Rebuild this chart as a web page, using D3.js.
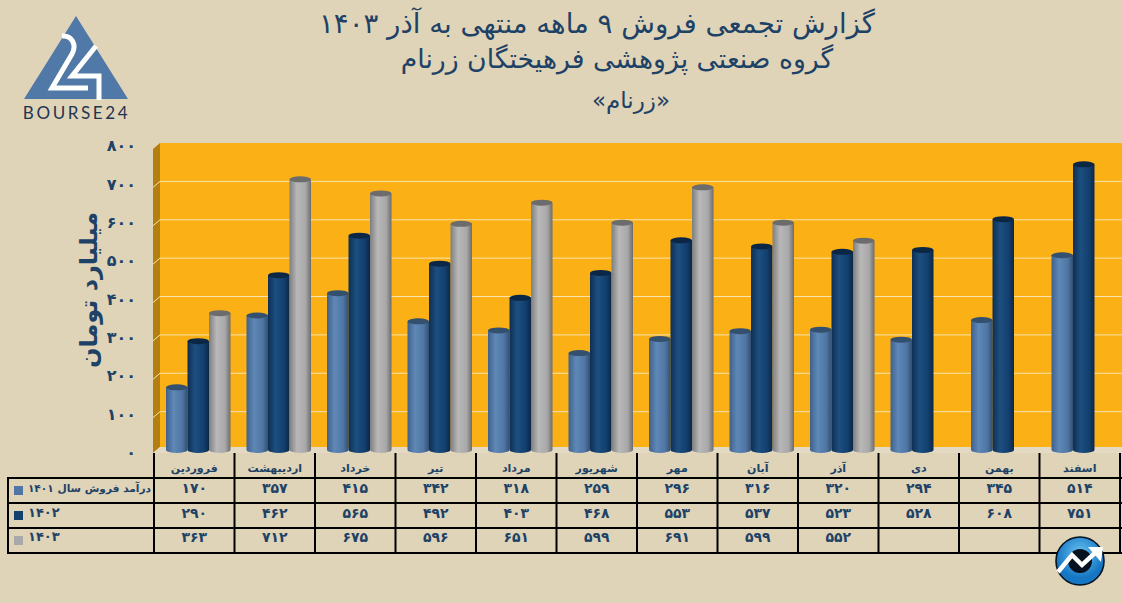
<!DOCTYPE html>
<html>
<head>
<meta charset="utf-8">
<script src="https://cdn.jsdelivr.net/npm/d3@7"></script>
<style>
  html, body { margin: 0; padding: 0; background: #dfd3b8; overflow: hidden; }
  text { font-family: "DejaVu Sans", sans-serif; }
</style>
</head>
<body>
<div id="wrapper"></div>
<script>
// chart values
const months = ["فروردین", "اردیبهشت", "خرداد", "تیر", "مرداد", "شهریور", "مهر", "آبان", "آذر", "دی", "بهمن", "اسفند"]
const years = ["1401", "1402", "1403"]
const sales1401 = [170, 357, 415, 342, 318, 259, 296, 316, 320, 294, 345, 514]
const sales1402 = [290, 462, 565, 492, 403, 468, 553, 537, 523, 528, 608, 751]
const sales1403 = [363, 712, 675, 596, 651, 599, 691, 599, 552, null, null, null]
const yTicks = [0, 100, 200, 300, 400, 500, 600, 700, 800]
const titleLines = [
    "گزارش تجمعی فروش ۹ ماهه منتهی به آذر ۱۴۰۳",
    "گروه صنعتی پژوهشی فرهیختگان زرنام",
    "«زرنام»",
]
const rowLabels = ["درآمد فروش سال ۱۴۰۱", "۱۴۰۲", "۱۴۰۳"]

const allSeries = [sales1401, sales1402, sales1403]
const ink = "#1d4266"
const toFa = n => String(n).replace(/\d/g, d => "۰۱۲۳۴۵۶۷۸۹"[d])

const dims = { width: 1122, height: 603 }

const wrapper = d3.select("#wrapper")
    .append("svg")
    .attr("width", dims.width)
    .attr("height", dims.height)
    .style("display", "block")

wrapper.append("rect")
    .attr("width", dims.width)
    .attr("height", dims.height)
    .attr("fill", "#dfd3b8")

// cylinder shading
const defs = wrapper.append("defs")
const shades = {
    "1401": ["#3f618c", "#5f88b6", "#4f76a4", "#34506f"],
    "1402": ["#0f2f52", "#1c4f80", "#123f6e", "#0c2746"],
    "1403": ["#7e7e7e", "#b8b8b8", "#a8a8a8", "#6c6c6c"],
}
years.forEach(year => {
    const grad = defs.append("linearGradient").attr("id", "bar" + year)
    ;[0, 0.35, 0.75, 1].forEach((o, i) => {
        grad.append("stop").attr("offset", o).attr("stop-color", shades[year][i])
    })
})

// scales
const xScale = d3.scaleBand()
    .domain(months)
    .range([154, 1120])

const barScale = d3.scaleBand()
    .domain(years)
    .range([12, 76.5])

const yScale = d3.scaleLinear()
    .domain([0, 800])
    .range([450, 143])

// bars sit a little in front of the back wall, so they read lower than the gridlines
const barDepth = 2.5

// plot wall, side wall and floor
wrapper.append("rect")
    .attr("x", 160)
    .attr("y", yScale(800))
    .attr("width", dims.width - 160)
    .attr("height", yScale(0) - yScale(800))
    .attr("fill", "#fbb116")

wrapper.append("path")
    .attr("d", `M153,${yScale(800) + 6}L160,${yScale(800)}V${yScale(0) - 3}L153,${yScale(0) + 3}Z`)
    .attr("fill", "#b3800f")

wrapper.append("path")
    .attr("d", `M153,${yScale(0) + 3}L160,${yScale(0) - 3}H${dims.width}V${yScale(0) + 3}Z`)
    .attr("fill", "#e4dac4")

// gridlines
const grid = wrapper.append("g")
grid.selectAll("path")
    .data(yTicks.slice(1, -1))
    .join("path")
    .attr("d", d => `M153,${yScale(d) + 6}L160,${yScale(d)}H${dims.width}`)
    .attr("fill", "none")
    .attr("stroke", "#f8e3ae")
    .attr("stroke-width", 1)

// y axis
const yAxisGenerator = d3.axisLeft()
    .scale(yScale)
    .tickValues(yTicks)
    .tickSize(0)
    .tickPadding(0)
    .tickFormat(toFa)

const yAxis = wrapper.append("g")
    .attr("transform", "translate(136,2.5)")
    .call(yAxisGenerator)

yAxis.select(".domain").remove()
yAxis.selectAll("text")
    .attr("fill", ink)
    .attr("font-size", 16)
    .attr("font-weight", "bold")
    .style("font-family", "DejaVu Sans")

wrapper.append("text")
    .attr("transform", "translate(97,290) rotate(-90)")
    .attr("text-anchor", "middle")
    .attr("fill", ink)
    .attr("font-size", 24)
    .attr("font-weight", "bold")
    .text("میلیارد تومان")

// bars
const bars = wrapper.append("g")
years.forEach((year, s) => {
    const group = bars.append("g")
    const points = months
        .map((m, i) => ({ month: m, value: allSeries[s][i] }))
        .filter(d => d.value !== null)
    const barX = d => xScale(d.month) + barScale(year)
    const barTop = d => yScale(d.value) + barDepth
    const rx = barScale.bandwidth() / 2

    // body with rounded foot
    group.selectAll("path.body")
        .data(points)
        .join("path")
        .attr("class", "body")
        .attr("d", d => `M${barX(d)},${barTop(d)}V${yScale(0)}`
            + `A${rx},3 0 0 0 ${barX(d) + rx * 2},${yScale(0)}V${barTop(d)}Z`)
        .attr("fill", `url(#bar${year})`)

    // top cap
    group.selectAll("ellipse")
        .data(points)
        .join("ellipse")
        .attr("cx", d => barX(d) + rx)
        .attr("cy", barTop)
        .attr("rx", rx)
        .attr("ry", 3)
        .attr("fill", shades[year][3])
})

// data table
const tableTop = 453
const rowLines = [478, 503, 528, 553]
const table = wrapper.append("g")

table.selectAll("line.row")
    .data(rowLines)
    .join("line")
    .attr("class", "row")
    .attr("x1", 7)
    .attr("x2", 1122)
    .attr("y1", d => d)
    .attr("y2", d => d)
    .attr("stroke", "#000")
    .attr("stroke-width", 2)

table.selectAll("line.col")
    .data(months.map(m => xScale(m)).concat(xScale.range()[1]))
    .join("line")
    .attr("class", "col")
    .attr("x1", d => d)
    .attr("x2", d => d)
    .attr("y1", tableTop)
    .attr("y2", 553)
    .attr("stroke", "#000")
    .attr("stroke-width", 2)

table.append("line")
    .attr("x1", 8)
    .attr("x2", 8)
    .attr("y1", 478)
    .attr("y2", 553)
    .attr("stroke", "#000")
    .attr("stroke-width", 2)

table.selectAll("text.month")
    .data(months)
    .join("text")
    .attr("class", "month")
    .attr("x", d => xScale(d) + xScale.bandwidth() / 2)
    .attr("y", 472)
    .attr("text-anchor", "middle")
    .attr("fill", ink)
    .attr("font-size", 11)
    .attr("font-weight", "bold")
    .text(d => d)

const rowBase = [493, 518, 542]
years.forEach((year, s) => {
    const points = months
        .map((m, i) => ({ month: m, value: allSeries[s][i] }))
        .filter(d => d.value !== null)

    table.selectAll("text.v" + year)
        .data(points)
        .join("text")
        .attr("class", "v" + year)
        .attr("x", d => xScale(d.month) + xScale.bandwidth() / 2)
        .attr("y", rowBase[s])
        .attr("text-anchor", "middle")
        .attr("fill", ink)
        .attr("font-size", 14)
        .attr("font-weight", "bold")
        .text(d => toFa(d.value))

    table.append("rect")
        .attr("x", 14)
        .attr("y", rowLines[s] + 8)
        .attr("width", 9)
        .attr("height", 9)
        .attr("fill", shades[year][2])
})

table.selectAll("text.rowLabel")
    .data(rowLabels)
    .join("text")
    .attr("class", "rowLabel")
    .attr("x", (d, i) => i === 0 ? 151 : 28)
    .attr("y", (d, i) => rowBase[i] - 1)
    .attr("text-anchor", (d, i) => i === 0 ? "end" : "start")
    .attr("fill", ink)
    .attr("font-size", (d, i) => i === 0 ? 10.6 : 13)
    .attr("font-weight", "bold")
    .text(d => d)

// title
const titleX = [597, 617, 631]
const titleY = [33, 68, 108]
const titleSize = [27.6, 26.7, 23]
wrapper.selectAll("text.title")
    .data(titleLines)
    .join("text")
    .attr("class", "title")
    .attr("x", (d, i) => titleX[i])
    .attr("y", (d, i) => titleY[i])
    .attr("text-anchor", "middle")
    .attr("fill", ink)
    .attr("font-size", (d, i) => titleSize[i])
    .text(d => d)

// logo
const logo = wrapper.append("g")
logo.append("path")
    .attr("d", "M76,16L128,99H24Z")
    .attr("fill", "#5079a8")
logo.append("path")
    .attr("d", "M62,36C72,35 77,45 72,54L52,88H88")
    .attr("fill", "none")
    .attr("stroke", "#fff")
    .attr("stroke-width", 5)
logo.append("path")
    .attr("d", "M96,46L72,76H99V100")
    .attr("fill", "none")
    .attr("stroke", "#fff")
    .attr("stroke-width", 5)
logo.append("text")
    .attr("x", 76.5)
    .attr("y", 119)
    .attr("text-anchor", "middle")
    .attr("fill", "#1e3550")
    .attr("font-size", 17)
    .attr("letter-spacing", 2.6)
    .style("font-family", "Lato")
    .text("BOURSE24")

// round badge bottom right
const badgeGrad = defs.append("radialGradient")
    .attr("id", "badge")
    .attr("cy", "35%")
badgeGrad.append("stop").attr("offset", 0).attr("stop-color", "#6cc4f2")
badgeGrad.append("stop").attr("offset", 1).attr("stop-color", "#1577c4")

const badge = wrapper.append("g").attr("transform", "translate(1080,561)")
badge.append("circle")
    .attr("r", 24)
    .attr("fill", "url(#badge)")
    .attr("stroke", "#06121f")
    .attr("stroke-width", 1.6)
badge.append("circle")
    .attr("r", 12)
    .attr("fill", "#06121f")
badge.append("path")
    .attr("d", "M-22,11L-8,-6L2,4L16,-9")
    .attr("fill", "none")
    .attr("stroke", "#fff")
    .attr("stroke-width", 4.5)
badge.append("path")
    .attr("d", "M8,-14L23,-14L21,1Z")
    .attr("fill", "#fff")
</script>
</body>
</html>
